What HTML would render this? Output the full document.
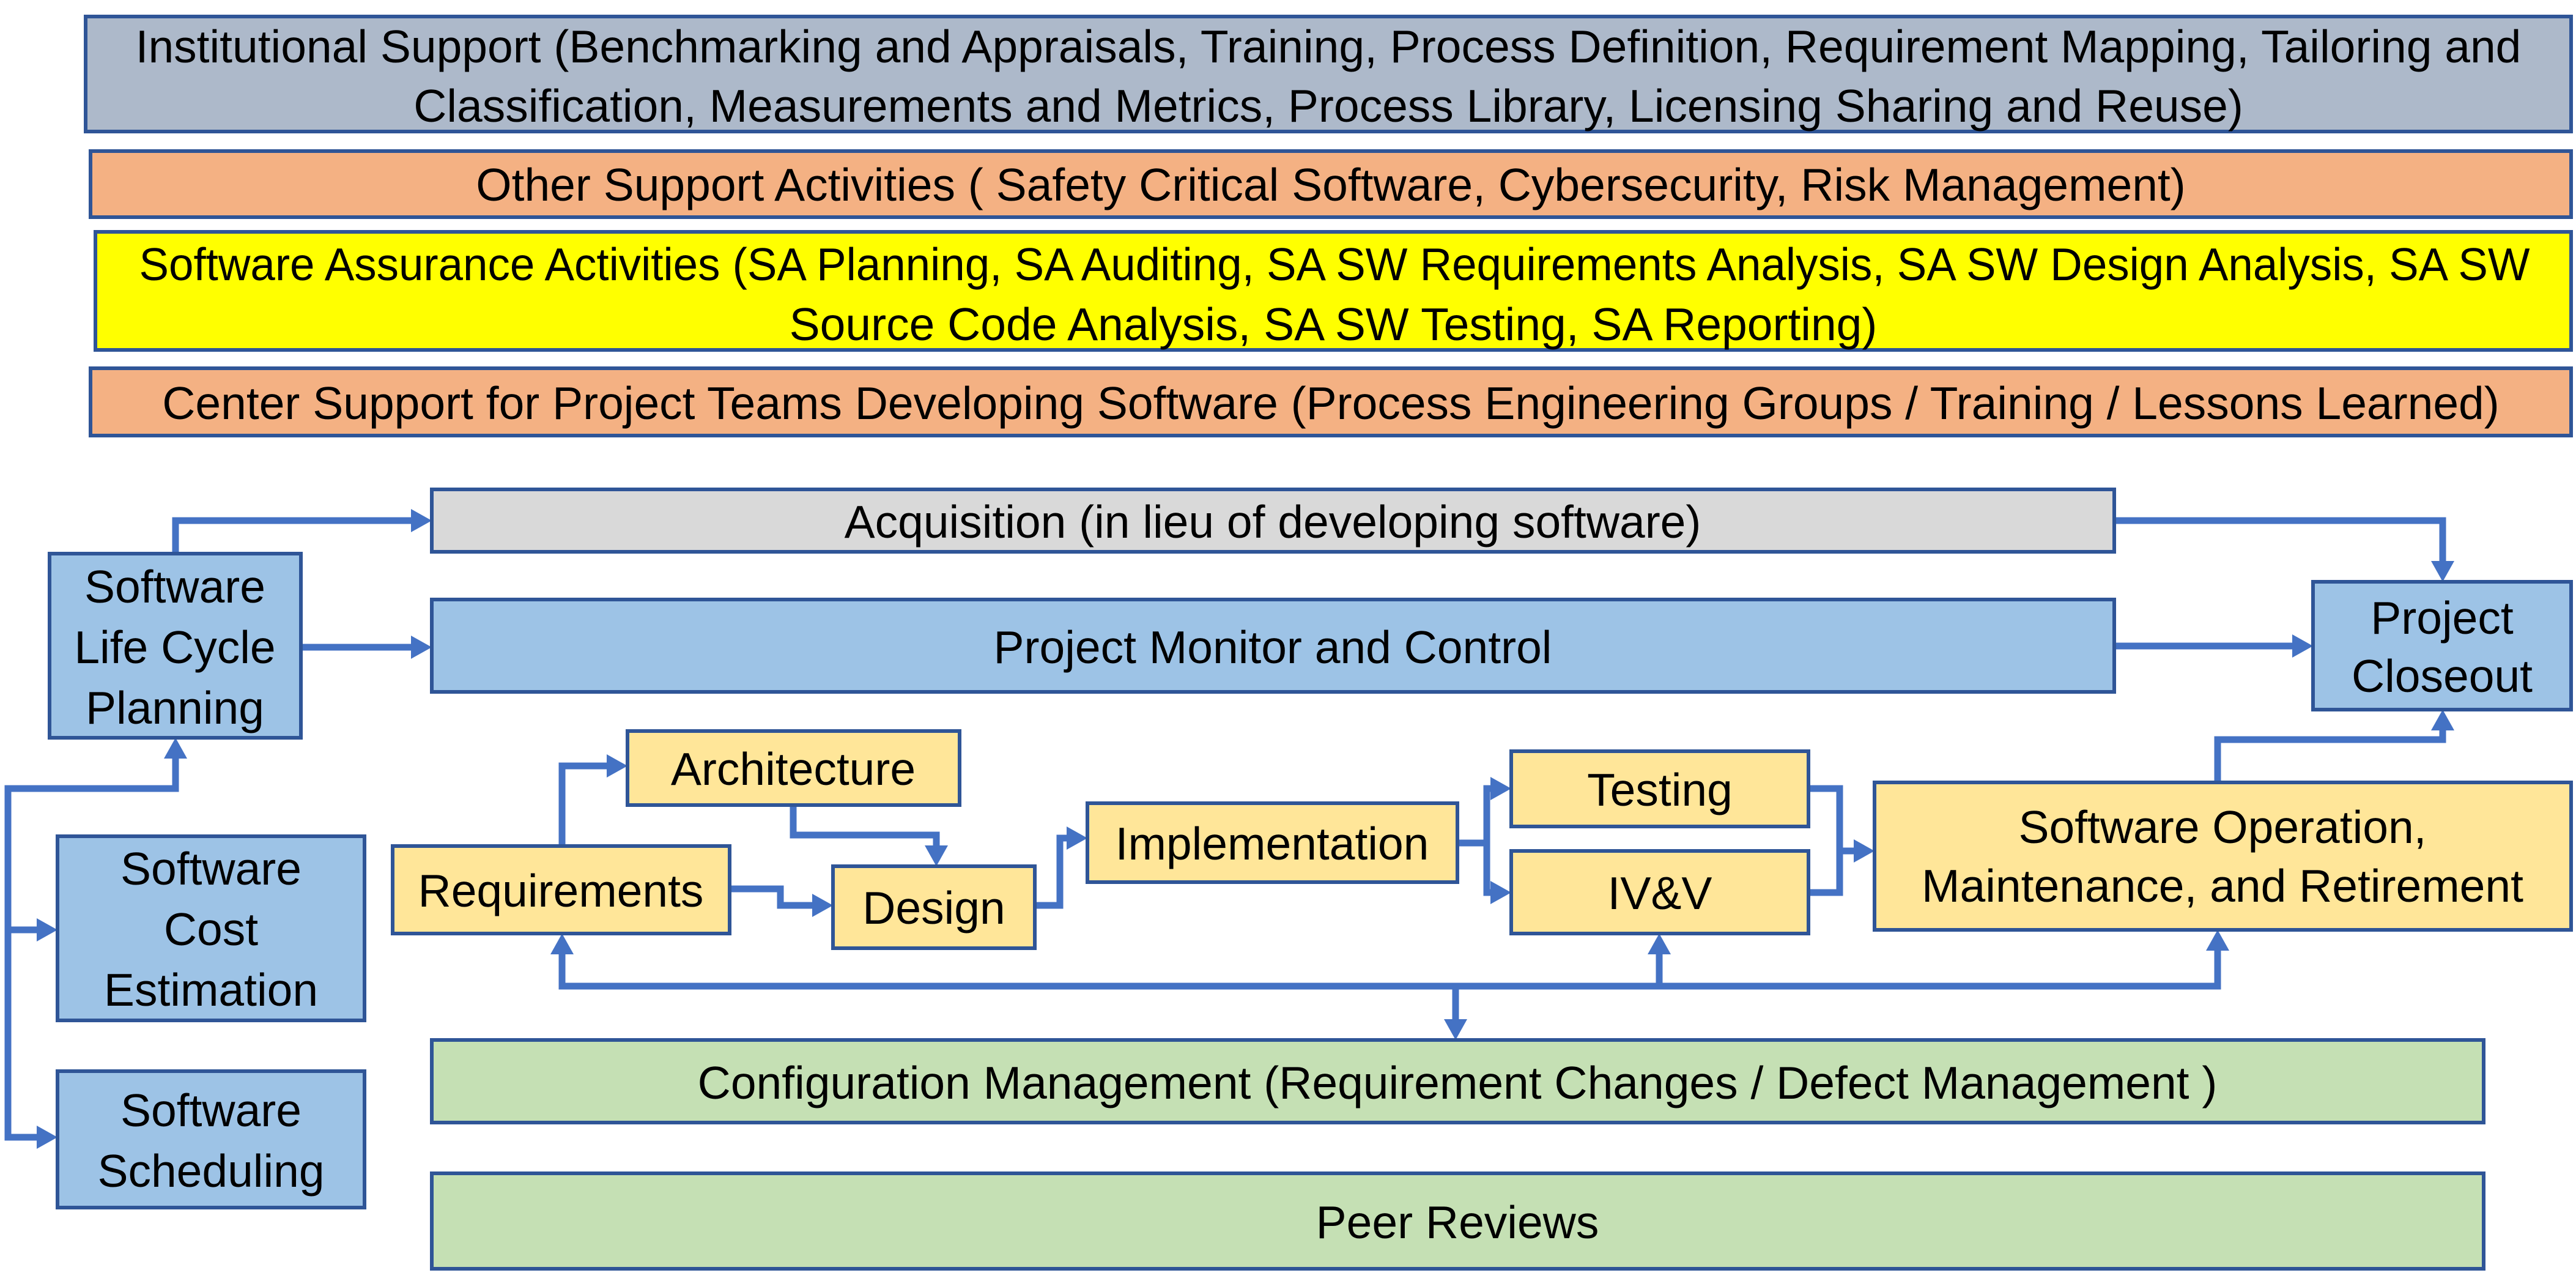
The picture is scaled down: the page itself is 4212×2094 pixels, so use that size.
<!DOCTYPE html>
<html><head><meta charset="utf-8"><style>
html,body{margin:0;padding:0;background:#fff;}
svg{display:block;}
text{font-family:"Liberation Sans",sans-serif;font-size:75px;fill:#000;text-anchor:middle;dominant-baseline:central;}
.b{stroke:#2F5597;stroke-width:6;}
.c{fill:none;stroke:#4472C4;stroke-width:11;stroke-linejoin:miter;}
.a{fill:#4472C4;}
</style></head><body>
<svg width="4212" height="2094" viewBox="0 0 4212 2094" xmlns="http://www.w3.org/2000/svg">
<rect class="b" x="140" y="27" width="4064" height="188" fill="#ADB9CA"/>
<text x="2172" y="76">Institutional Support (Benchmarking and Appraisals, Training, Process Definition, Requirement Mapping, Tailoring and</text>
<text x="2172" y="173">Classification, Measurements and Metrics, Process Library, Licensing Sharing and Reuse)</text>
<rect class="b" x="148" y="247" width="4056" height="108" fill="#F4B183"/>
<text x="2176" y="302">Other Support Activities ( Safety Critical Software, Cybersecurity, Risk Management)</text>
<rect class="b" x="156" y="379" width="4048" height="193" fill="#FFFF00"/>
<text x="2182" y="432" textLength="3909" lengthAdjust="spacingAndGlyphs">Software Assurance Activities (SA Planning, SA Auditing, SA SW Requirements Analysis, SA SW Design Analysis, SA SW</text>
<text x="2180" y="530">Source Code Analysis, SA SW Testing, SA Reporting)</text>
<rect class="b" x="148" y="602" width="4056" height="110" fill="#F4B183"/>
<text x="2176" y="659">Center Support for Project Teams Developing Software (Process Engineering Groups / Training / Lessons Learned)</text>

<g class="c">
<polyline points="287,905 287,851 680,851"/>
<polyline points="492,1058 680,1058"/>
<polyline points="287,1232 287,1289 13,1289 13,1859 68,1859"/>
<polyline points="13,1520 68,1520"/>
<polyline points="3457,851 3994,851 3994,925"/>
<polyline points="3457,1056 3756,1056"/>
<polyline points="3626,1279 3626,1209 3994,1209 3994,1186"/>
<polyline points="919,1383 919,1252 1000,1252"/>
<polyline points="1297,1316 1297,1365 1531,1365 1531,1390"/>
<polyline points="1193,1453 1276,1453 1276,1480 1336,1480"/>
<polyline points="1692,1480 1733,1480 1733,1370 1752,1370"/>
<polyline points="2383,1378 2431,1378 2431,1289 2445,1289"/>
<polyline points="2431,1378 2431,1459 2445,1459"/>
<polyline points="2957,1289 3008,1289 3008,1459 2957,1459"/>
<polyline points="3008,1391 3039,1391"/>
<polyline points="919,1552 919,1612 3626,1612 3626,1546"/>
<polyline points="2713,1612 2713,1552"/>
<polyline points="2380,1612 2380,1674"/>
</g>
<g class="a">
<polygon points="706,851 672,832 672,870"/>
<polygon points="706,1058 672,1039 672,1077"/>
<polygon points="287,1206 268,1240 306,1240"/>
<polygon points="94,1520 60,1501 60,1539"/>
<polygon points="94,1859 60,1840 60,1878"/>
<polygon points="3994,951 3975,917 4013,917"/>
<polygon points="3782,1056 3748,1037 3748,1075"/>
<polygon points="3994,1160 3975,1194 4013,1194"/>
<polygon points="1026,1252 992,1233 992,1271"/>
<polygon points="1531,1416 1512,1382 1550,1382"/>
<polygon points="1362,1480 1328,1461 1328,1499"/>
<polygon points="1778,1370 1744,1351 1744,1389"/>
<polygon points="2471,1289 2437,1270 2437,1308"/>
<polygon points="2471,1459 2437,1440 2437,1478"/>
<polygon points="3065,1391 3031,1372 3031,1410"/>
<polygon points="919,1526 900,1560 938,1560"/>
<polygon points="2713,1526 2694,1560 2732,1560"/>
<polygon points="3626,1520 3607,1554 3645,1554"/>
<polygon points="2380,1700 2361,1666 2399,1666"/>
</g>

<rect class="b" x="81" y="905" width="411" height="301" fill="#9DC3E6"/>
<text x="286" y="959">Software</text><text x="286" y="1058">Life Cycle</text><text x="286" y="1157">Planning</text>
<rect class="b" x="706" y="800" width="2751" height="102" fill="#D9D9D9"/>
<text x="2081" y="853">Acquisition (in lieu of developing software)</text>
<rect class="b" x="706" y="980" width="2751" height="151" fill="#9DC3E6"/>
<text x="2081" y="1058">Project Monitor and Control</text>
<rect class="b" x="3782" y="951" width="422" height="209" fill="#9DC3E6"/>
<text x="3993" y="1010">Project</text><text x="3993" y="1105">Closeout</text>
<rect class="b" x="94" y="1367" width="502" height="301" fill="#9DC3E6"/>
<text x="345" y="1420">Software</text><text x="345" y="1519">Cost</text><text x="345" y="1618">Estimation</text>
<rect class="b" x="94" y="1751" width="502" height="223" fill="#9DC3E6"/>
<text x="345" y="1815">Software</text><text x="345" y="1914">Scheduling</text>
<rect class="b" x="642" y="1383" width="551" height="143" fill="#FFE699"/>
<text x="917" y="1456">Requirements</text>
<rect class="b" x="1026" y="1195" width="543" height="121" fill="#FFE699"/>
<text x="1297" y="1257">Architecture</text>
<rect class="b" x="1362" y="1416" width="330" height="134" fill="#FFE699"/>
<text x="1527" y="1484">Design</text>
<rect class="b" x="1778" y="1313" width="605" height="129" fill="#FFE699"/>
<text x="2080" y="1379">Implementation</text>
<rect class="b" x="2471" y="1228" width="486" height="123" fill="#FFE699"/>
<text x="2714" y="1291">Testing</text>
<rect class="b" x="2471" y="1391" width="486" height="135" fill="#FFE699"/>
<text x="2714" y="1460">IV&amp;V</text>
<rect class="b" x="3065" y="1279" width="1139" height="241" fill="#FFE699"/>
<text x="3634" y="1352">Software Operation,</text><text x="3634" y="1448">Maintenance, and Retirement</text>
<rect class="b" x="706" y="1700" width="3355" height="135" fill="#C5E0B4"/>
<text x="2383" y="1770">Configuration Management (Requirement Changes / Defect Management )</text>
<rect class="b" x="706" y="1918" width="3355" height="156" fill="#C5E0B4"/>
<text x="2383" y="1998">Peer Reviews</text>
</svg>
</body></html>
